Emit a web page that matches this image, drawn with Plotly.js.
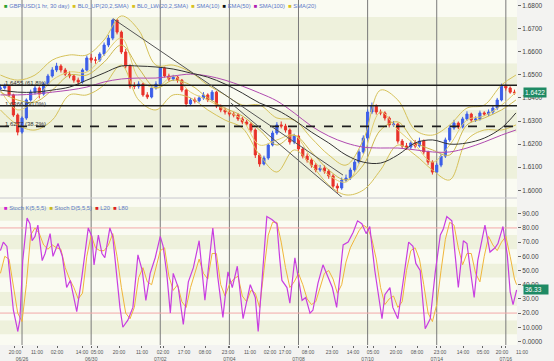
<!DOCTYPE html>
<html><head><meta charset="utf-8">
<script src="https://cdn.plot.ly/plotly-3.0.1.min.js"></script>
<style>html,body{margin:0;padding:0;background:#f3f3f1;}#chart{width:554px;height:361px;}</style>
</head><body><div id="chart"></div>
<script>
// ---- price bars (3-hour bars, hour 0 = 06/26 00:00) ----
const barStartHour = -15, barStepHours = 3;
const firstOpen = 1.6440;
const close = [1.6443,1.6451,1.6413,1.6326,1.6252,1.6313,1.6391,1.6425,1.6443,1.6417,
1.6460,1.6495,1.6521,1.6538,1.6521,1.6503,1.6495,1.6477,1.6469,1.6521,
1.6573,1.6564,1.6564,1.6590,1.6629,1.6659,1.6737,1.6685,1.6599,1.6538,
1.6451,1.6451,1.6460,1.6413,1.6404,1.6443,1.6460,1.6529,1.6495,1.6482,
1.6490,1.6477,1.6434,1.6374,1.6391,1.6387,1.6400,1.6413,1.6391,1.6425,
1.6365,1.6348,1.6339,1.6330,1.6326,1.6309,1.6296,1.6287,1.6261,1.6153,
1.6114,1.6140,1.6196,1.6248,1.6283,1.6278,1.6261,1.6209,1.6235,1.6179,
1.6148,1.6131,1.6109,1.6088,1.6096,1.6083,1.6062,1.6018,1.6010,1.6044,
1.6053,1.6088,1.6122,1.6166,1.6226,1.6339,1.6365,1.6339,1.6335,1.6313,
1.6283,1.6287,1.6213,1.6192,1.6187,1.6205,1.6192,1.6213,1.6166,1.6122,
1.6079,1.6109,1.6148,1.6218,1.6270,1.6291,1.6274,1.6309,1.6330,1.6304,
1.6309,1.6335,1.6330,1.6339,1.6356,1.6391,1.6451,1.6443,1.6425,1.6422];
const high = [1.6458,1.6462,1.6456,1.6418,1.6333,1.6320,1.6398,1.6436,1.6455,1.6450,
1.6468,1.6504,1.6533,1.6552,1.6546,1.6530,1.6515,1.6502,1.6488,1.6528,
1.6584,1.6590,1.6578,1.6598,1.6640,1.6672,1.6743,1.6740,1.6692,1.6612,
1.6545,1.6468,1.6472,1.6466,1.6425,1.6450,1.6472,1.6540,1.6535,1.6505,
1.6500,1.6496,1.6482,1.6440,1.6400,1.6402,1.6410,1.6425,1.6420,1.6434,
1.6430,1.6372,1.6358,1.6348,1.6340,1.6334,1.6318,1.6305,1.6295,1.6268,
1.6160,1.6150,1.6205,1.6258,1.6295,1.6298,1.6288,1.6268,1.6245,1.6240,
1.6188,1.6160,1.6140,1.6118,1.6110,1.6108,1.6092,1.6070,1.6030,1.6055,
1.6068,1.6098,1.6132,1.6178,1.6238,1.6350,1.6380,1.6372,1.6350,1.6342,
1.6320,1.6300,1.6292,1.6222,1.6205,1.6215,1.6218,1.6228,1.6220,1.6172,
1.6130,1.6118,1.6158,1.6228,1.6282,1.6305,1.6298,1.6318,1.6342,1.6336,
1.6320,1.6345,1.6342,1.6350,1.6366,1.6400,1.6462,1.6458,1.6450,1.6436];
const low = [1.6428,1.6436,1.6405,1.6318,1.6238,1.6245,1.6305,1.6384,1.6415,1.6398,
1.6410,1.6452,1.6488,1.6512,1.6510,1.6494,1.6485,1.6466,1.6455,1.6462,
1.6515,1.6552,1.6548,1.6556,1.6582,1.6620,1.6650,1.6675,1.6590,1.6528,
1.6440,1.6438,1.6440,1.6405,1.6395,1.6398,1.6436,1.6452,1.6488,1.6472,
1.6474,1.6466,1.6425,1.6362,1.6366,1.6376,1.6380,1.6392,1.6382,1.6385,
1.6356,1.6338,1.6328,1.6320,1.6316,1.6300,1.6286,1.6278,1.6250,1.6140,
1.6102,1.6108,1.6132,1.6190,1.6240,1.6268,1.6250,1.6198,1.6200,1.6170,
1.6138,1.6120,1.6098,1.6078,1.6080,1.6072,1.6050,1.6008,1.5989,1.6002,
1.6035,1.6045,1.6080,1.6115,1.6158,1.6218,1.6330,1.6328,1.6325,1.6302,
1.6272,1.6275,1.6202,1.6182,1.6175,1.6178,1.6182,1.6185,1.6155,1.6110,
1.6068,1.6072,1.6100,1.6140,1.6210,1.6262,1.6265,1.6268,1.6300,1.6295,
1.6296,1.6302,1.6322,1.6322,1.6330,1.6348,1.6385,1.6432,1.6418,1.6414];

// ---- indicators, read every 12 hours ----
const indHours = [-15,-3,9,21,33,45,57,69,81,93,105,117,129,141,153,165,177,189,201,213,225,237,249,261,273,285,297,309,321,333,343];
const ema50 = [1.6434,1.6425,1.6425,1.6434,1.6447,1.6477,1.6508,1.6538,1.6538,1.6534,1.6525,1.6508,1.6490,1.6460,1.6421,1.6378,1.6348,1.6304,1.6252,1.6205,1.6153,1.6122,1.6118,1.6153,1.6205,1.6218,1.6200,1.6205,1.6226,1.6270,1.6335];
const sma100 = [1.6413,1.6413,1.6417,1.6425,1.6434,1.6447,1.6469,1.6482,1.6486,1.6486,1.6495,1.6503,1.6495,1.6477,1.6451,1.6421,1.6387,1.6335,1.6278,1.6235,1.6205,1.6187,1.6183,1.6183,1.6175,1.6166,1.6166,1.6183,1.6209,1.6239,1.6261];
const sma20 = [1.6425,1.6391,1.6382,1.6434,1.6499,1.6499,1.6555,1.6629,1.6529,1.6443,1.6477,1.6456,1.6400,1.6356,1.6322,1.6261,1.6196,1.6239,1.6166,1.6088,1.6045,1.6109,1.6261,1.6296,1.6209,1.6175,1.6153,1.6283,1.6313,1.6348,1.6391];
const bbUp = [1.6499,1.6477,1.6499,1.6564,1.6586,1.6586,1.6651,1.6755,1.6694,1.6542,1.6542,1.6512,1.6456,1.6413,1.6369,1.6369,1.6313,1.6304,1.6226,1.6153,1.6109,1.6218,1.6434,1.6391,1.6261,1.6239,1.6283,1.6356,1.6369,1.6456,1.6499];
const bbLw = [1.6348,1.6283,1.6261,1.6304,1.6413,1.6413,1.6456,1.6542,1.6391,1.6348,1.6413,1.6400,1.6348,1.6304,1.6270,1.6153,1.6079,1.6175,1.6109,1.6023,1.5980,1.6001,1.6088,1.6196,1.6153,1.6088,1.6045,1.6218,1.6261,1.6261,1.6283];
const sma10 = [1.6434,1.6348,1.6391,1.6477,1.6512,1.6512,1.6586,1.6659,1.6486,1.6443,1.6495,1.6425,1.6391,1.6348,1.6304,1.6196,1.6218,1.6239,1.6140,1.6066,1.6036,1.6153,1.6339,1.6261,1.6196,1.6122,1.6196,1.6304,1.6322,1.6369,1.6425];

// ---- stochastic ----
const stochKHours = [-15,-13,-10.5,-8.5,-6,-3.5,-3,-1.5,0.5,3.5,5.5,7,9,11,14,16,19.5,21.5,25,28,31,33.5,35.5,38,41.5,46,48.5,50,53,55.5,57.5,61,63,68,70,73.5,77,80.5,83.5,86,89,92.5,96,98,100.5,103,105,108.5,112,115.5,119,123,127,130,132.5,136,139.5,143,146,149.5,153.5,158.5,162,164,170,173.5,177,179,180.5,184,186,189.5,191.5,194.5,197,200,202,205.5,209,212,215.5,218.5,220.5,223,226.5,230,233,236,239,241.5,245,250,252,255.5,257.5,261,264.5,268.5,271.5,273.5,276.5,280,283.5,287,290.5,292.5,295,298.5,300.5,303,306.5,309,311,314,316.5,321.5,325,328.5,330.5,334,337,339,341,343.5];
const stochK = [64,70,67,45,22,10,7,15,57,87,83,71,74,82,57,62,76,60,69,60,38,43,34,21,45,80,74,54,75,62,59,80,74,24,10,15,24,61,50,29,48,59,74,67,48,20,48,38,12,42,52,71,29,57,80,45,17,49,38,53,16,40,31,7,88,86,83,58,43,38,27,59,46,29,31,20,22,41,54,46,38,24,46,68,70,77,85,83,76,81,50,16,33,38,24,16,41,70,67,55,50,9,16,49,75,79,88,85,64,38,71,69,53,31,57,82,63,66,69,81,61,35,26,36.33];
const stochDHours = [-15,-12,-9,-6,-3,0,3,6,9,12,15,18,21,24,27,30,33,36,39,42,45,48,51,54,57,60,63,66,69,72,75,78,81,84,87,90,93,96,99,102,105,108,111,114,117,120,123,126,129,132,135,138,141,144,147,150,153,156,159,162,165,168,171,174,177,180,183,186,189,192,195,198,201,204,207,210,213,216,219,222,225,228,231,234,237,240,243,246,249,252,255,258,261,264,267,270,273,276,279,282,285,288,291,294,297,300,303,306,309,312,315,318,321,324,327,330,333,336,339,342,343.5];
const stochD = [48,60,58,40,20,14,40,75,80,76,68,65,68,66,65,52,44,38,30,34,60,75,66,64,64,68,76,60,38,20,16,24,45,52,42,40,52,64,66,46,36,40,28,24,38,48,58,48,44,62,62,40,32,40,44,46,32,28,36,34,24,50,75,84,84,70,52,38,42,48,40,30,26,28,38,48,50,44,34,40,56,66,72,78,82,80,72,58,38,26,30,32,24,28,50,64,66,58,40,20,14,26,50,72,84,82,66,54,62,62,48,42,60,74,68,64,70,74,60,44,40];

// ---- levels, labels ----
const fibLevels = [1.6455, 1.6366, 1.6277];
const fibLabels = ['1.6455 (61.8%)', '1.6366 (50.0%)', '1.6277 (38.2%)'];
const trendStart = [63.2, 1.6743], trendEnd = [222.9, 1.6066];
const channelStart = [145, 1.6378], channelEnd = [224, 1.5960];
const stochLevels = [20, 80];
const dateHours = [0,48,96,144,192,240,288,336];
const dateLabels = ['06/26','06/30','07/02','07/04','07/08','07/10','07/14','07/16'];
const timeTickHours = [-4.9,10.4,24.3,41.7,52.1,67.4,83.3,97.9,112.5,127.1,143.1,158.3,172.2,182.6,198.6,215.3,229.9,243.75,259.7,274.3,290.3,306.25,320.1,333.3];
const timeTickLabels = ['20:00','11:00','02:00','14:00','05:00','20:00','11:00','02:00','17:00','08:00','23:00','11:00','02:00','17:00','08:00','23:00','14:00','05:00','20:00','08:00','23:00','14:00','05:00','20:00'];
const lastTimeLabel = '11:00';
const priceTicks = [1.60,1.61,1.62,1.63,1.64,1.65,1.66,1.67,1.68];
const stochTicks = [0,10,20,30,40,50,60,70,80,90];
const stochTickText = ['0.0000','10.000','20.00','30.00','40.00','50.00','60.00','70.00','80.00','90.00'];
const lastPrice = 1.6422, lastStoch = 36.33;

// build OHLC
const barX = close.map((_, i) => barStartHour + i * barStepHours);
const open = close.map((c, i) => i === 0 ? firstOpen : close[i - 1]);

// x-axis ticks: time labels on the first line, dates on a second line
const xTickVals = timeTickHours.concat(dateHours);
const xTickText = timeTickLabels.concat(dateLabels.map(d => '&nbsp;<br>' + d));

const yellow = '#d6c25a';
const traces = [
  {type:'candlestick', x:barX, open:open, high:high, low:low, close:close, xaxis:'x', yaxis:'y',
   increasing:{line:{color:'#3d5fe8',width:1}, fillcolor:'#3d5fe8'},
   decreasing:{line:{color:'#e8322a',width:1}, fillcolor:'#e8322a'}, whiskerwidth:0, hoverinfo:'skip'},
  {type:'scatter', mode:'lines', x:indHours, y:bbUp, line:{color:yellow,width:1,shape:'spline'}, yaxis:'y'},
  {type:'scatter', mode:'lines', x:indHours, y:bbLw, line:{color:yellow,width:1,shape:'spline'}, yaxis:'y'},
  {type:'scatter', mode:'lines', x:indHours, y:sma10, line:{color:'#e3cf70',width:1,shape:'spline'}, yaxis:'y'},
  {type:'scatter', mode:'lines', x:indHours, y:sma20, line:{color:'#cdb84e',width:1,shape:'spline'}, yaxis:'y'},
  {type:'scatter', mode:'lines', x:indHours, y:sma100, line:{color:'#b04ab0',width:1,shape:'spline'}, yaxis:'y'},
  {type:'scatter', mode:'lines', x:indHours, y:ema50, line:{color:'#333333',width:1,shape:'spline'}, yaxis:'y'},
  {type:'scatter', mode:'lines', x:stochDHours, y:stochD, line:{color:'#f0b63a',width:1}, xaxis:'x', yaxis:'y2'},
  {type:'scatter', mode:'lines', x:stochKHours, y:stochK, line:{color:'#c83ee0',width:1.2}, xaxis:'x', yaxis:'y2'}
];

const shapes = [];
for (let k = 159; k <= 168; k++) {
  const c = k / 100;
  shapes.push({type:'rect', xref:'paper', yref:'y', x0:0, x1:1, y0:c-0.005, y1:c+0.005,
    fillcolor: (k % 2 === 1) ? '#eef1dc' : '#fafbf2', line:{width:0}, layer:'below'});
}
for (let v = 0; v <= 100; v += 10) {
  shapes.push({type:'rect', xref:'paper', yref:'y2', x0:0, x1:1, y0:v-5, y1:v+5,
    fillcolor: ((v/10) % 2 === 1) ? '#eef1dc' : '#fafbf2', line:{width:0}, layer:'below'});
}
dateHours.forEach(h => shapes.push({type:'line', xref:'x', yref:'paper', x0:h, x1:h, y0:0, y1:1,
  line:{color:'#7a7a7a', width:1}, layer:'below'}));
stochLevels.forEach(v => shapes.push({type:'line', xref:'paper', yref:'y2', x0:0, x1:1, y0:v, y1:v,
  line:{color:'#f2a8a8', width:1}, layer:'below'}));
fibLevels.forEach((v, i) => shapes.push({type:'line', xref:'paper', yref:'y', x0:0, x1:1, y0:v, y1:v,
  line:{color:'#1e1e1e', width:1.6, dash: i === 2 ? 'dash' : 'solid'}, layer:'above'}));
shapes.push({type:'line', xref:'x', yref:'y', x0:trendStart[0], y0:trendStart[1], x1:trendEnd[0], y1:trendEnd[1],
  line:{color:'#555', width:1}});
shapes.push({type:'line', xref:'x', yref:'y', x0:channelStart[0], y0:channelStart[1], x1:channelEnd[0], y1:channelEnd[1],
  line:{color:'#555', width:1}});
shapes.push({type:'line', xref:'paper', yref:'paper', x0:0, x1:1, y0:0.426, y1:0.426, line:{color:'#cfcfcf', width:1}});

const sq = (c) => `<span style="color:${c}">■</span>`;
const F = 'Liberation Sans, Arial';
const annotations = [];
annotations.push({xref:'paper', yref:'paper', x:0.004, y:1, xanchor:'left', yanchor:'top', yshift:-1, showarrow:false,
  font:{family:F, size:5.8, color:'#5b79c8'},
  text: sq('#2ca02c')+' GBP/USD(1 hr, 30 day)  '+sq('#d8c020')+' BL0_UP(20,2,SMA)  '+sq('#d8c020')+' BL0_LW(20,2,SMA)  '+sq('#d8c020')+' SMA(10)  '+sq('#111')+' EMA(50)  '+sq('#b020b0')+' SMA(100)  '+sq('#d8c020')+' SMA(20)'});
annotations.push({xref:'paper', yref:'y2', x:0.004, y:100, xanchor:'left', yanchor:'top', yshift:-3, showarrow:false,
  font:{family:F, size:5.8, color:'#5b79c8'},
  text: sq('#d020d0')+' Stoch K(5,5,5)  '+sq('#c8b820')+' Stoch D(5,5,5)  '+sq('#dd2020')+' L20  '+sq('#dd2020')+' L80'});
fibLevels.forEach((v, i) => annotations.push({xref:'paper', yref:'y', x:0.006, y:v, xanchor:'left', yanchor:'bottom', yshift:-3,
  showarrow:false, text:fibLabels[i], font:{family:F, size:6, color:'#333'}}));
annotations.push({xref:'paper', yref:'paper', x:522/517, y:0, xanchor:'center', yanchor:'middle', yshift:-7,
  showarrow:false, text:lastTimeLabel, font:{family:F, size:5, color:'#555'}});
annotations.push({xref:'paper', yref:'y', x:1, y:lastPrice, xanchor:'left', yanchor:'middle', xshift:6, showarrow:false,
  text:lastPrice.toFixed(4), bgcolor:'#1e8a64', borderpad:1, font:{family:F, size:6.5, color:'#fff'}});
annotations.push({xref:'paper', yref:'y2', x:1, y:lastStoch, xanchor:'left', yanchor:'middle', xshift:6, showarrow:false,
  text:lastStoch.toFixed(2)+'&nbsp;&nbsp;&nbsp;', bgcolor:'#1e8a64', borderpad:1, font:{family:F, size:6.5, color:'#fff'}});

const layout = {
  width:554, height:361, margin:{l:0, r:37, t:0, b:16},
  paper_bgcolor:'#f3f3f1', plot_bgcolor:'#fafbf2', showlegend:false,
  font:{family:F, size:6, color:'#555'},
  xaxis:{anchor:'y2', range:[-15.3, 343.75], tickvals:xTickVals, ticktext:xTickText, tickangle:0,
    ticks:'outside', ticklen:2, tickcolor:'#666', showgrid:false, zeroline:false, showline:false,
    rangeslider:{visible:false}, tickfont:{size:5, color:'#555'}, fixedrange:true},
  yaxis:{domain:[0.429, 1], side:'right', anchor:'x', range:[1.5971, 1.6824], tickvals:priceTicks, tickformat:'.4f',
    ticks:'outside', ticklen:3, tickcolor:'#666', showgrid:false, zeroline:false, tickfont:{size:6.5, color:'#444'}},
  yaxis2:{domain:[0, 0.4232], side:'right', anchor:'x', range:[-2.5, 100.4], tickvals:stochTicks, ticktext:stochTickText,
    ticks:'outside', ticklen:3, tickcolor:'#666', showgrid:false, zeroline:false, tickfont:{size:6.5, color:'#444'}},
  shapes:shapes, annotations:annotations
};
Plotly.newPlot('chart', traces, layout, {staticPlot:true, displayModeBar:false});
</script></body></html>
